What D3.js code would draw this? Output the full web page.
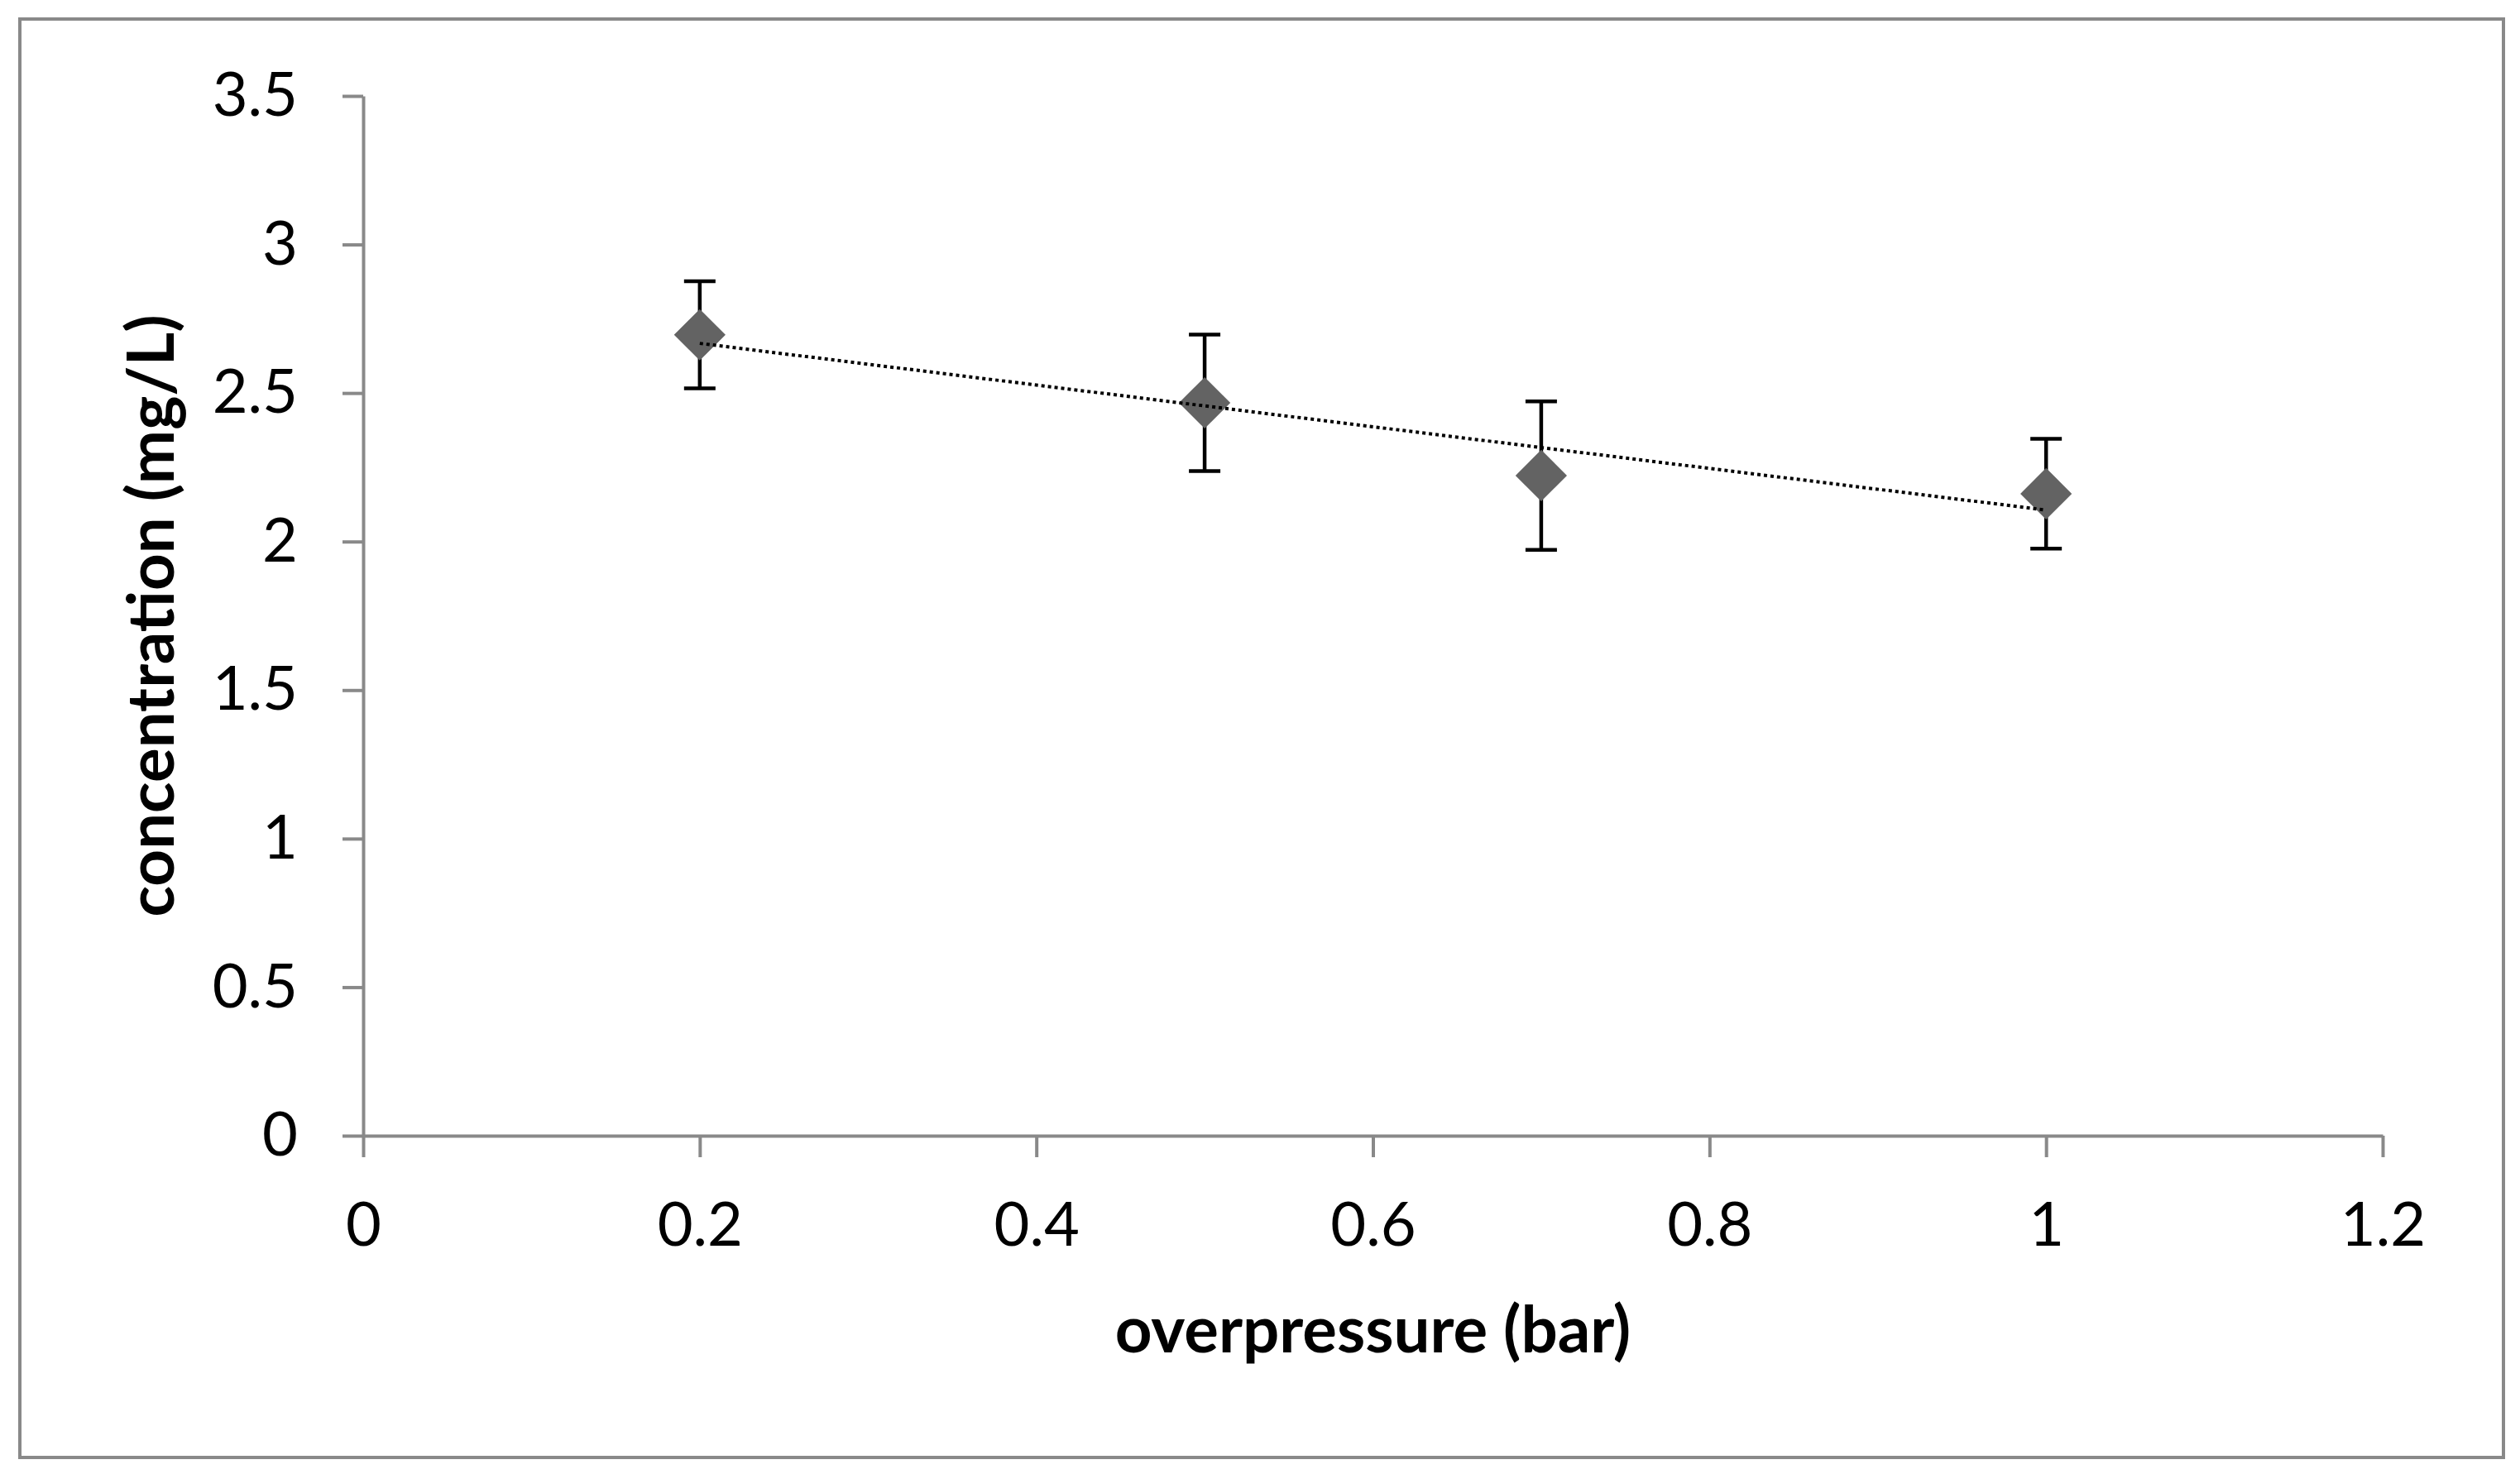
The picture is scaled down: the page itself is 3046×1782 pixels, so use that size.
<!DOCTYPE html>
<html>
<head>
<meta charset="utf-8">
<script src="https://cdn.jsdelivr.net/npm/d3@7/dist/d3.min.js"></script>
<style>
  body { margin: 0; background: #fff; }
  .axis text { font-family: Lato, "Open Sans", sans-serif; font-size: 74px; fill: #000; }
  .axis path, .axis line { stroke: #898989; stroke-width: 4; }
  .title { font-family: Lato, "Open Sans", sans-serif; font-weight: bold; font-size: 78px; fill: #000; }
</style>
</head>
<body>
<svg id="chart" width="3046" height="1782"></svg>
<script>
// data
const pressure = [0.2, 0.5, 0.7, 1.0];
const concentration = [2.696, 2.467, 2.222, 2.161];
const errorBar = [0.18, 0.23, 0.25, 0.185];
const xTicks = [0, 0.2, 0.4, 0.6, 0.8, 1, 1.2];
const yTicks = [0, 0.5, 1, 1.5, 2, 2.5, 3, 3.5];

const width = 3046;
const height = 1782;
const margin = { top: 116, right: 166, bottom: 409, left: 439 };

const svg = d3.select("#chart");

// outer frame
svg.append("rect")
  .attr("x", 24)
  .attr("y", 23)
  .attr("width", 3002)
  .attr("height", 1739)
  .attr("fill", "#fff")
  .attr("stroke", "#898989")
  .attr("stroke-width", 4);

const xScale = d3.scaleLinear()
  .domain([0, 1.2])
  .range([margin.left, width - margin.right]);

const yScale = d3.scaleLinear()
  .domain([0, 3.5])
  .range([height - margin.bottom, margin.top]);

const fmt = d => String(+d.toFixed(1));

svg.append("g")
  .attr("class", "axis")
  .attr("transform", `translate(0, ${yScale(0)})`)
  .call(d3.axisBottom(xScale)
    .tickValues(xTicks)
    .tickFormat(fmt)
    .tickSize(26)
    .tickSizeOuter(0)
    .tickPadding(54));

svg.append("g")
  .attr("class", "axis")
  .attr("transform", `translate(${xScale(0)}, 0)`)
  .call(d3.axisLeft(yScale)
    .tickValues(yTicks)
    .tickFormat(fmt)
    .tickSize(25)
    .tickSizeOuter(0)
    .tickPadding(54));

const points = pressure.map((p, i) => ({ x: p, y: concentration[i], e: errorBar[i] }));

// error bars
const capHalf = 19;
const eb = svg.append("g")
  .attr("stroke", "#000")
  .attr("stroke-width", 4.5);

eb.selectAll("line.stem")
  .data(points)
  .enter().append("line")
  .attr("class", "stem")
  .attr("x1", d => xScale(d.x))
  .attr("x2", d => xScale(d.x))
  .attr("y1", d => yScale(d.y - d.e))
  .attr("y2", d => yScale(d.y + d.e));

eb.selectAll("line.capTop")
  .data(points)
  .enter().append("line")
  .attr("class", "capTop")
  .attr("x1", d => xScale(d.x) - capHalf)
  .attr("x2", d => xScale(d.x) + capHalf)
  .attr("y1", d => yScale(d.y + d.e))
  .attr("y2", d => yScale(d.y + d.e));

eb.selectAll("line.capBottom")
  .data(points)
  .enter().append("line")
  .attr("class", "capBottom")
  .attr("x1", d => xScale(d.x) - capHalf)
  .attr("x2", d => xScale(d.x) + capHalf)
  .attr("y1", d => yScale(d.y - d.e))
  .attr("y2", d => yScale(d.y - d.e));

// diamond markers
svg.append("g").selectAll("path")
  .data(points)
  .enter().append("path")
  .attr("d", d3.symbol(d3.symbolSquare).size(1936))
  .attr("transform", d => `translate(${xScale(d.x)}, ${yScale(d.y)}) rotate(45)`)
  .attr("fill", "#636363");

// linear trendline
const mx = d3.mean(pressure);
const my = d3.mean(concentration);
const slope = d3.sum(pressure, (p, i) => (p - mx) * (concentration[i] - my)) /
  d3.sum(pressure, p => (p - mx) ** 2);
const intercept = my - slope * mx;
const xExt = d3.extent(pressure);

svg.append("path")
  .datum(xExt)
  .attr("fill", "none")
  .attr("stroke", "#000")
  .attr("stroke-width", 4)
  .attr("stroke-dasharray", "4,4")
  .attr("d", d3.line()
    .x(d => xScale(d))
    .y(d => yScale(intercept + slope * d)));

// axis titles
svg.append("text")
  .attr("class", "title")
  .attr("x", (xScale(0) + xScale(1.2)) / 2)
  .attr("y", 1635)
  .attr("text-anchor", "middle")
  .text("overpressure (bar)");

svg.append("text")
  .attr("class", "title")
  .attr("transform", `translate(210, ${(yScale(0) + yScale(3.5)) / 2}) rotate(-90)`)
  .attr("text-anchor", "middle")
  .text("concentration (mg/L)");
</script>
</body>
</html>
